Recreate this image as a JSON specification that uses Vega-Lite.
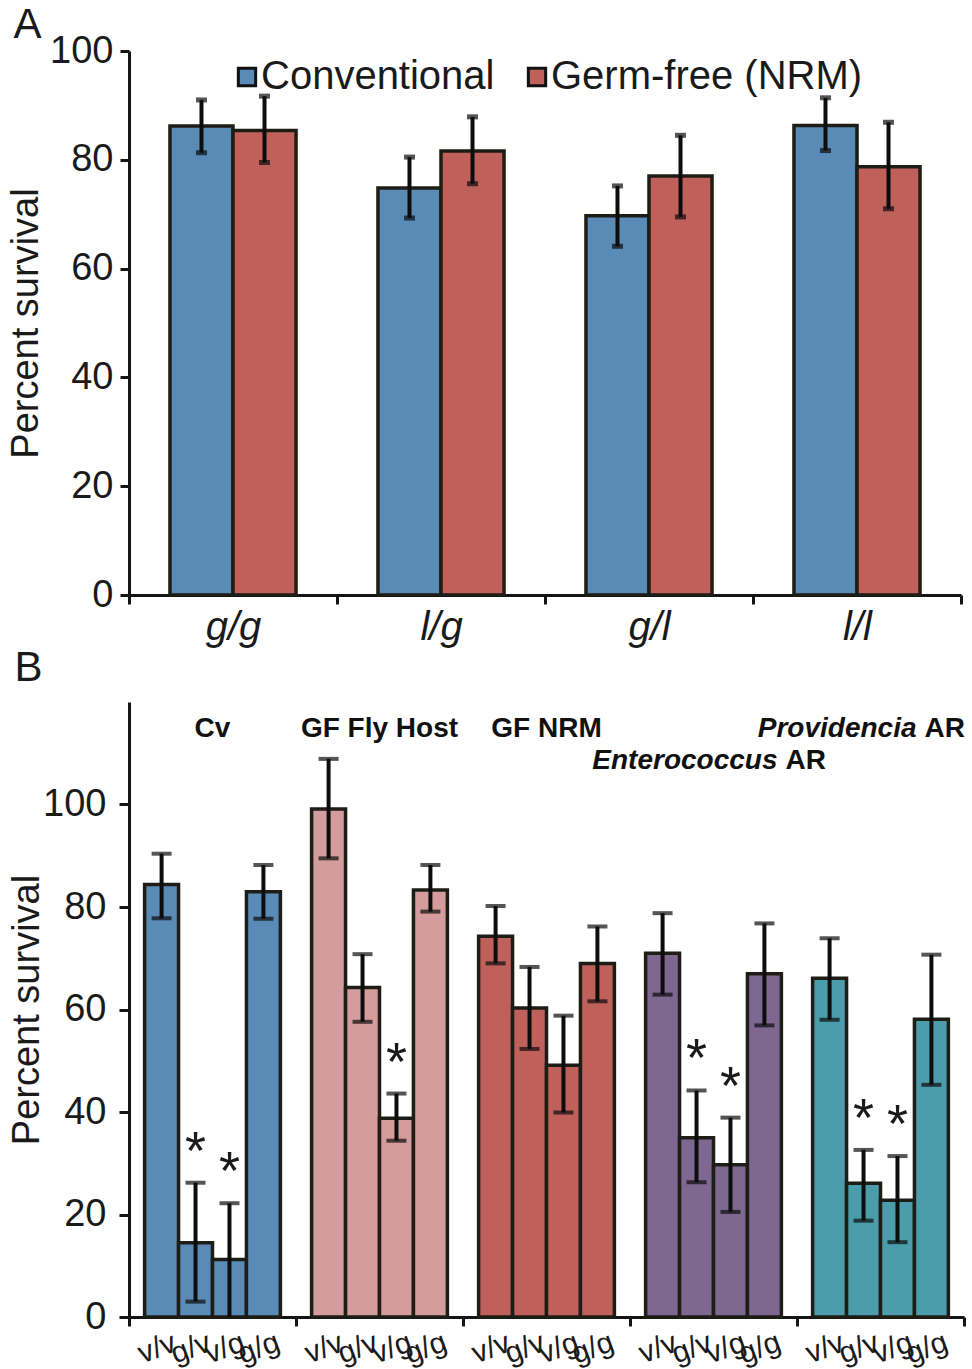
{
  "$schema": "https://vega.github.io/schema/vega-lite/v6.json",
  "padding": {"left": 7, "top": 4, "right": 5, "bottom": 5},
  "background": "white",
  "config": {
    "font": "Liberation Sans",
    "view": {"stroke": null},
    "axis": {
      "domainColor": "#141414", "domainWidth": 3, "tickColor": "#141414", "tickWidth": 3, "tickSize": 9,
      "labelFont": "Liberation Sans", "labelFontSize": 38, "labelColor": "#1a1a1a",
      "titleFont": "Liberation Sans", "titleFontSize": 38, "titleFontWeight": "normal", "titleColor": "#1a1a1a",
      "grid": false
    }
  },
  "datasets": {
    "a": [
      {"genotype": "g/g", "condition": "Conventional", "value": 86.2, "lo": 81.3, "hi": 91.0},
      {"genotype": "g/g", "condition": "Germ-free (NRM)", "value": 85.4, "lo": 79.5, "hi": 91.7},
      {"genotype": "l/g", "condition": "Conventional", "value": 74.8, "lo": 69.3, "hi": 80.5},
      {"genotype": "l/g", "condition": "Germ-free (NRM)", "value": 81.6, "lo": 75.6, "hi": 87.9},
      {"genotype": "g/l", "condition": "Conventional", "value": 69.7, "lo": 64.1, "hi": 75.2},
      {"genotype": "g/l", "condition": "Germ-free (NRM)", "value": 77.0, "lo": 69.5, "hi": 84.5},
      {"genotype": "l/l", "condition": "Conventional", "value": 86.3, "lo": 81.7, "hi": 91.4},
      {"genotype": "l/l", "condition": "Germ-free (NRM)", "value": 78.7, "lo": 71.0, "hi": 86.9}
    ],
    "b": [
      {"group": "Cv", "genotype": "v/v", "value": 84.4, "lo": 77.8, "hi": 90.4, "sig": false},
      {"group": "Cv", "genotype": "g/v", "value": 14.5, "lo": 3.0, "hi": 26.2, "sig": true},
      {"group": "Cv", "genotype": "v/g", "value": 11.2, "lo": 0, "hi": 22.2, "sig": true},
      {"group": "Cv", "genotype": "g/g", "value": 83.0, "lo": 77.7, "hi": 88.2, "sig": false},
      {"group": "GF Fly Host", "genotype": "v/v", "value": 99.1, "lo": 89.5, "hi": 108.9, "sig": false},
      {"group": "GF Fly Host", "genotype": "g/v", "value": 64.3, "lo": 57.6, "hi": 70.8, "sig": false},
      {"group": "GF Fly Host", "genotype": "v/g", "value": 38.8, "lo": 34.4, "hi": 43.6, "sig": true},
      {"group": "GF Fly Host", "genotype": "g/g", "value": 83.3, "lo": 79.1, "hi": 88.2, "sig": false},
      {"group": "GF NRM", "genotype": "v/v", "value": 74.3, "lo": 69.0, "hi": 80.2, "sig": false},
      {"group": "GF NRM", "genotype": "g/v", "value": 60.3, "lo": 52.3, "hi": 68.3, "sig": false},
      {"group": "GF NRM", "genotype": "v/g", "value": 49.1, "lo": 39.9, "hi": 58.8, "sig": false},
      {"group": "GF NRM", "genotype": "g/g", "value": 69.0, "lo": 61.6, "hi": 76.2, "sig": false},
      {"group": "Enterococcus AR", "genotype": "v/v", "value": 71.0, "lo": 62.9, "hi": 78.8, "sig": false},
      {"group": "Enterococcus AR", "genotype": "g/v", "value": 35.0, "lo": 26.3, "hi": 44.2, "sig": true},
      {"group": "Enterococcus AR", "genotype": "v/g", "value": 29.7, "lo": 20.5, "hi": 38.9, "sig": true},
      {"group": "Enterococcus AR", "genotype": "g/g", "value": 67.0, "lo": 56.9, "hi": 76.8, "sig": false},
      {"group": "Providencia AR", "genotype": "v/v", "value": 66.1, "lo": 58.0, "hi": 73.9, "sig": false},
      {"group": "Providencia AR", "genotype": "g/v", "value": 26.1, "lo": 18.8, "hi": 32.6, "sig": true},
      {"group": "Providencia AR", "genotype": "v/g", "value": 22.8, "lo": 14.6, "hi": 31.4, "sig": true},
      {"group": "Providencia AR", "genotype": "g/g", "value": 58.1, "lo": 45.3, "hi": 70.7, "sig": false}
    ],
    "blabels": [
      {"group": "Cv", "text": "Cv", "part": "plain"},
      {"group": "GF Fly Host", "text": "GF Fly Host", "part": "plain"},
      {"group": "GF NRM", "text": "GF NRM", "part": "plain"},
      {"group": "Enterococcus AR", "text": "Enterococcus", "part": "genus"},
      {"group": "Enterococcus AR", "text": "AR", "part": "suffix"},
      {"group": "Providencia AR", "text": "Providencia", "part": "genus"},
      {"group": "Providencia AR", "text": "AR", "part": "suffix"}
    ]
  },
  "vconcat": [
    {
      "width": 832,
      "height": 544,
      "title": {"text": "A", "anchor": "start", "frame": "bounds", "fontSize": 42, "fontWeight": "normal", "color": "#1a1a1a", "offset": -10, "dy": 5, "dx": 6},
      "data": {"name": "a"},
      "layer": [
        {
          "mark": {"type": "bar", "stroke": "#1d1d16", "strokeWidth": 3.5},
          "encoding": {
            "x": {"field": "genotype", "type": "nominal", "scale": {"domain": ["g/g", "l/g", "g/l", "l/l"], "paddingInner": 0, "paddingOuter": 0},
                  "axis": {"title": null, "labelAngle": 0, "labelFontStyle": "italic", "labelFontSize": 40, "tickBand": "extent", "labelPadding": 3}},
            "xOffset": {"field": "condition", "type": "nominal", "scale": {"domain": ["Conventional", "Germ-free (NRM)"], "paddingOuter": 0.65, "paddingInner": 0}},
            "y": {"field": "value", "type": "quantitative", "title": "Percent survival", "scale": {"domain": [0, 100]},
                  "axis": {"values": [0, 20, 40, 60, 80, 100], "labelPadding": 7, "titlePadding": 4}},
            "color": {"field": "condition", "type": "nominal", "scale": {"domain": ["Conventional", "Germ-free (NRM)"], "range": ["#5a8ab6", "#c0605a"]},
                      "legend": {"orient": "none", "legendX": 98, "legendY": 6, "direction": "horizontal", "title": null, "symbolType": "square", "symbolSize": 300,
                                 "symbolStrokeColor": "#111111", "symbolStrokeWidth": 3, "labelFontSize": 40, "labelFont": "Liberation Sans", "labelColor": "#1a1a1a",
                                 "labelLimit": 400, "columnPadding": 22, "labelOffset": -6}}
          }
        },
        {
          "mark": {"type": "rule", "strokeWidth": 4, "color": "#0d0d0d"},
          "encoding": {
            "x": {"field": "genotype", "type": "nominal", "scale": {"domain": ["g/g", "l/g", "g/l", "l/l"]}},
            "xOffset": {"field": "condition", "type": "nominal", "scale": {"domain": ["Conventional", "Germ-free (NRM)"]}},
            "y": {"field": "lo", "type": "quantitative", "title": "Percent survival"},
            "y2": {"field": "hi"}
          }
        },
        {
          "mark": {"type": "tick", "thickness": 5, "size": 11, "color": "#0d0d0d"},
          "encoding": {
            "x": {"field": "genotype", "type": "nominal", "scale": {"domain": ["g/g", "l/g", "g/l", "l/l"]}},
            "xOffset": {"field": "condition", "type": "nominal", "scale": {"domain": ["Conventional", "Germ-free (NRM)"]}},
            "y": {"field": "hi", "type": "quantitative", "title": "Percent survival"}
          }
        },
        {
          "mark": {"type": "tick", "thickness": 5, "size": 11, "color": "#0d0d0d"},
          "encoding": {
            "x": {"field": "genotype", "type": "nominal", "scale": {"domain": ["g/g", "l/g", "g/l", "l/l"]}},
            "xOffset": {"field": "condition", "type": "nominal", "scale": {"domain": ["Conventional", "Germ-free (NRM)"]}},
            "y": {"field": "lo", "type": "quantitative", "title": "Percent survival"}
          }
        }
      ]
    },
    {
      "width": 835,
      "height": 615,
      "title": {"text": "B", "anchor": "start", "frame": "bounds", "fontSize": 42, "fontWeight": "normal", "color": "#1a1a1a", "offset": 12, "dx": 6},
      "layer": [
        {
          "data": {"name": "b"},
          "mark": {"type": "bar", "stroke": "#1d1d16", "strokeWidth": 3.5},
          "encoding": {
            "x": {"field": "group", "type": "nominal", "scale": {"domain": ["Cv", "GF Fly Host", "GF NRM", "Enterococcus AR", "Providencia AR"], "paddingInner": 0, "paddingOuter": 0},
                  "axis": {"title": null, "labels": false, "tickBand": "extent"}},
            "xOffset": {"field": "genotype", "type": "nominal", "scale": {"domain": ["v/v", "g/v", "v/g", "g/g"], "paddingOuter": 0.46, "paddingInner": 0}},
            "y": {"field": "value", "type": "quantitative", "title": "Percent survival", "scale": {"domain": [0, 120]},
                  "axis": {"values": [0, 20, 40, 60, 80, 100], "labelPadding": 13, "titlePadding": -4, "tickSize": 10}},
            "color": {"field": "group", "type": "nominal", "scale": {"domain": ["Cv", "GF Fly Host", "GF NRM", "Enterococcus AR", "Providencia AR"], "range": ["#5a8ab6", "#d49c9c", "#c0605a", "#7e6790", "#4b9dab"]}, "legend": null}
          }
        },
        {
          "data": {"name": "b"},
          "mark": {"type": "rule", "strokeWidth": 4, "color": "#0d0d0d"},
          "encoding": {
            "x": {"field": "group", "type": "nominal", "scale": {"domain": ["Cv", "GF Fly Host", "GF NRM", "Enterococcus AR", "Providencia AR"]}},
            "xOffset": {"field": "genotype", "type": "nominal", "scale": {"domain": ["v/v", "g/v", "v/g", "g/g"]}},
            "y": {"field": "lo", "type": "quantitative", "title": "Percent survival"},
            "y2": {"field": "hi"}
          }
        },
        {
          "data": {"name": "b"},
          "mark": {"type": "tick", "thickness": 4, "size": 20, "color": "#0d0d0d"},
          "encoding": {
            "x": {"field": "group", "type": "nominal", "scale": {"domain": ["Cv", "GF Fly Host", "GF NRM", "Enterococcus AR", "Providencia AR"]}},
            "xOffset": {"field": "genotype", "type": "nominal", "scale": {"domain": ["v/v", "g/v", "v/g", "g/g"]}},
            "y": {"field": "hi", "type": "quantitative", "title": "Percent survival"}
          }
        },
        {
          "data": {"name": "b"},
          "transform": [{"filter": "datum.lo > 0"}],
          "mark": {"type": "tick", "thickness": 4, "size": 20, "color": "#0d0d0d"},
          "encoding": {
            "x": {"field": "group", "type": "nominal", "scale": {"domain": ["Cv", "GF Fly Host", "GF NRM", "Enterococcus AR", "Providencia AR"]}},
            "xOffset": {"field": "genotype", "type": "nominal", "scale": {"domain": ["v/v", "g/v", "v/g", "g/g"]}},
            "y": {"field": "lo", "type": "quantitative", "title": "Percent survival"}
          }
        },
        {
          "data": {"name": "b"},
          "transform": [{"filter": "datum.sig"}],
          "mark": {"type": "text", "fontSize": 54, "color": "#1a1a1a", "baseline": "alphabetic", "dy": -14},
          "encoding": {
            "x": {"field": "group", "type": "nominal", "scale": {"domain": ["Cv", "GF Fly Host", "GF NRM", "Enterococcus AR", "Providencia AR"]}},
            "xOffset": {"field": "genotype", "type": "nominal", "scale": {"domain": ["v/v", "g/v", "v/g", "g/g"]}},
            "y": {"field": "hi", "type": "quantitative", "title": "Percent survival"},
            "text": {"value": "*"}
          }
        },
        {
          "data": {"name": "b"},
          "mark": {"type": "text", "fontSize": 30, "color": "#1a1a1a", "angle": -20, "baseline": "middle", "align": "center", "dy": 28, "dx": -15},
          "encoding": {
            "x": {"field": "group", "type": "nominal", "scale": {"domain": ["Cv", "GF Fly Host", "GF NRM", "Enterococcus AR", "Providencia AR"]}},
            "xOffset": {"field": "genotype", "type": "nominal", "scale": {"domain": ["v/v", "g/v", "v/g", "g/g"]}},
            "y": {"datum": 0, "type": "quantitative"},
            "text": {"field": "genotype"}
          }
        },
        {
          "data": {"name": "blabels"},
          "transform": [{"filter": "datum.part == 'plain'"}],
          "mark": {"type": "text", "fontSize": 28, "fontWeight": "bold", "color": "#111111", "baseline": "middle", "align": "center"},
          "encoding": {
            "x": {"field": "group", "type": "nominal", "scale": {"domain": ["Cv", "GF Fly Host", "GF NRM", "Enterococcus AR", "Providencia AR"]}},
            "y": {"datum": 114.8, "type": "quantitative"},
            "text": {"field": "text"}
          }
        },
        {
          "data": {"name": "blabels"},
          "transform": [{"filter": "datum.group == 'Enterococcus AR' && datum.part == 'genus'"}],
          "mark": {"type": "text", "fontSize": 28, "fontWeight": "bold", "fontStyle": "italic", "color": "#111111", "baseline": "middle", "align": "right", "dx": 64},
          "encoding": {
            "x": {"field": "group", "type": "nominal", "scale": {"domain": ["Cv", "GF Fly Host", "GF NRM", "Enterococcus AR", "Providencia AR"]}},
            "y": {"datum": 108.4, "type": "quantitative"},
            "text": {"field": "text"}
          }
        },
        {
          "data": {"name": "blabels"},
          "transform": [{"filter": "datum.group == 'Enterococcus AR' && datum.part == 'suffix'"}],
          "mark": {"type": "text", "fontSize": 28, "fontWeight": "bold", "color": "#111111", "baseline": "middle", "align": "left", "dx": 72},
          "encoding": {
            "x": {"field": "group", "type": "nominal", "scale": {"domain": ["Cv", "GF Fly Host", "GF NRM", "Enterococcus AR", "Providencia AR"]}},
            "y": {"datum": 108.4, "type": "quantitative"},
            "text": {"field": "text"}
          }
        },
        {
          "data": {"name": "blabels"},
          "transform": [{"filter": "datum.group == 'Providencia AR' && datum.part == 'genus'"}],
          "mark": {"type": "text", "fontSize": 28, "fontWeight": "bold", "fontStyle": "italic", "color": "#111111", "baseline": "middle", "align": "right", "dx": 36},
          "encoding": {
            "x": {"field": "group", "type": "nominal", "scale": {"domain": ["Cv", "GF Fly Host", "GF NRM", "Enterococcus AR", "Providencia AR"]}},
            "y": {"datum": 114.8, "type": "quantitative"},
            "text": {"field": "text"}
          }
        },
        {
          "data": {"name": "blabels"},
          "transform": [{"filter": "datum.group == 'Providencia AR' && datum.part == 'suffix'"}],
          "mark": {"type": "text", "fontSize": 28, "fontWeight": "bold", "color": "#111111", "baseline": "middle", "align": "left", "dx": 44},
          "encoding": {
            "x": {"field": "group", "type": "nominal", "scale": {"domain": ["Cv", "GF Fly Host", "GF NRM", "Enterococcus AR", "Providencia AR"]}},
            "y": {"datum": 114.8, "type": "quantitative"},
            "text": {"field": "text"}
          }
        }
      ]
    }
  ],
  "spacing": 107,
  "bounds": "flush",
  "resolve": {"scale": {"x": "independent", "xOffset": "independent", "y": "independent", "color": "independent"}}
}
